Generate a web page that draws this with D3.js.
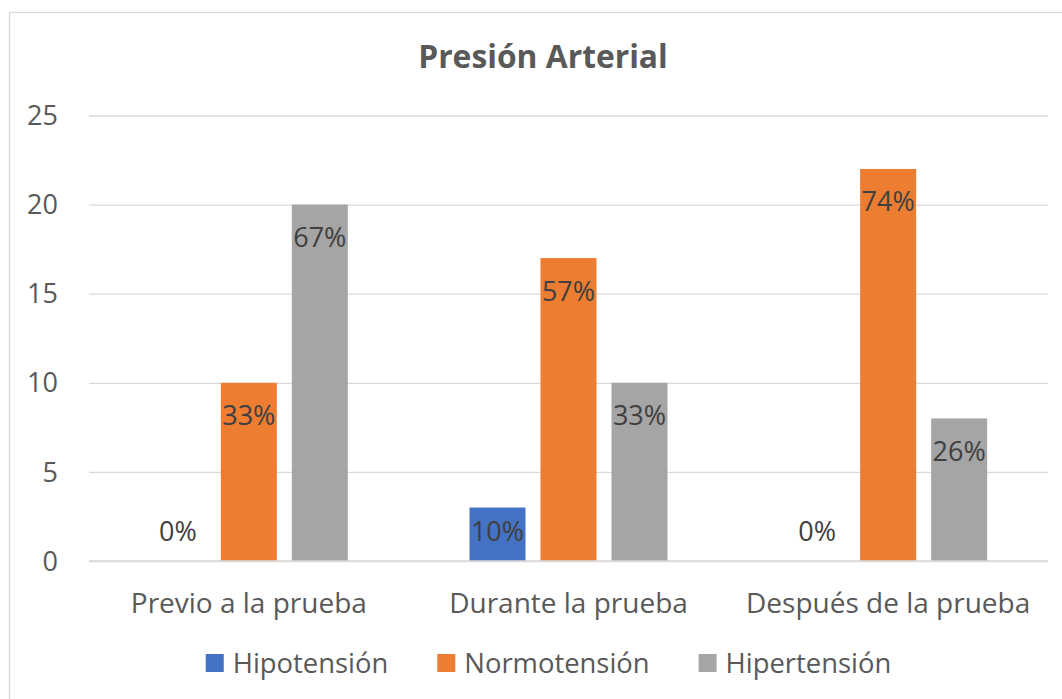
<!DOCTYPE html>
<html>
<head>
<meta charset="utf-8">
<script src="https://cdn.jsdelivr.net/npm/d3@7"></script>
<style>
  body { margin: 0; background: #fff; }
  svg { font-family: 'Open Sans', sans-serif; }
</style>
</head>
<body>
<svg id="chart" width="1062" height="699"></svg>
<script>
const categories = ['Previo a la prueba', 'Durante la prueba', 'Después de la prueba'];
const seriesNames = ['Hipotensión', 'Normotensión', 'Hipertensión'];
const hipotension = [0, 3, 0];
const normotension = [10, 17, 22];
const hipertension = [20, 10, 8];
const hipotensionPct = ['0%', '10%', '0%'];
const normotensionPct = ['33%', '57%', '74%'];
const hipertensionPct = ['67%', '33%', '26%'];
const yTicks = [0, 5, 10, 15, 20, 25];

const colors = ['#4472C4', '#ED7D31', '#A5A5A5'];
const valuesBySeries = [hipotension, normotension, hipertension];
const pctBySeries = [hipotensionPct, normotensionPct, hipertensionPct];

const margin = { top: 115.5, right: 14, bottom: 138, left: 89 };
const svg = d3.select('#chart');
const width = +svg.attr('width');
const height = +svg.attr('height');

// chart frame
svg.append('rect')
  .attr('x', 9.5).attr('y', 12.5)
  .attr('width', 1080).attr('height', 720)
  .attr('fill', '#fff')
  .attr('stroke', '#D9D9D9')
  .attr('stroke-width', 1.3);

const x0 = d3.scaleBand()
  .domain(categories)
  .range([margin.left, width - margin.right]);

const x1 = d3.scaleBand()
  .domain(seriesNames)
  .range([0, x0.bandwidth()])
  .paddingInner(0.211)
  .paddingOuter(0.857);

const y = d3.scaleLinear()
  .domain([0, 25])
  .range([height - margin.bottom, margin.top]);

// gridlines + y labels
const yAxis = d3.axisLeft(y)
  .tickValues(yTicks)
  .tickSize(-(width - margin.right - margin.left))
  .tickPadding(31);

const gY = svg.append('g')
  .attr('transform', `translate(${margin.left},0)`)
  .call(yAxis);
gY.select('.domain').remove();
gY.selectAll('.tick line').attr('stroke', '#D9D9D9').attr('stroke-width', 1.3);
gY.selectAll('.tick text')
  .attr('fill', '#595959')
  .style('font-size', '27px')
  .style('font-family', "'Open Sans', sans-serif")
  .attr('dy', '0.34em');

// bars
const rows = [];
categories.forEach((c, i) => {
  seriesNames.forEach((s, j) => {
    rows.push({ cat: c, series: s, value: valuesBySeries[j][i], pct: pctBySeries[j][i], color: colors[j] });
  });
});

const group = svg.append('g');
group.selectAll('rect.bar')
  .data(rows)
  .enter()
  .append('rect')
  .classed('bar', true)
  .attr('x', d => x0(d.cat) + x1(d.series))
  .attr('y', d => y(d.value))
  .attr('width', x1.bandwidth())
  .attr('height', d => y(0) - y(d.value))
  .attr('fill', d => d.color);

// data labels (inside end)
group.selectAll('text.lbl')
  .data(rows)
  .enter()
  .append('text')
  .classed('lbl', true)
  .attr('x', d => x0(d.cat) + x1(d.series) + x1.bandwidth() / 2)
  .attr('y', d => Math.min(y(d.value) + 33, y(0) - 30) + 9.5)
  .attr('text-anchor', 'middle')
  .attr('fill', '#404040')
  .style('font-size', '27px')
  .text(d => d.pct);

// x axis baseline + category labels
svg.append('line')
  .attr('x1', margin.left).attr('x2', width - margin.right)
  .attr('y1', y(0)).attr('y2', y(0))
  .attr('stroke', '#D9D9D9').attr('stroke-width', 1.3);

svg.selectAll('text.cat')
  .data(categories)
  .enter()
  .append('text')
  .classed('cat', true)
  .attr('x', d => x0(d) + x0.bandwidth() / 2)
  .attr('y', 613)
  .attr('text-anchor', 'middle')
  .attr('fill', '#595959')
  .style('font-size', '28px')
  .text(d => d);

// title
svg.append('text')
  .attr('x', 543)
  .attr('y', 68)
  .attr('text-anchor', 'middle')
  .attr('fill', '#595959')
  .style('font-size', '31.8px')
  .style('font-weight', 'bold')
  .text('Presión Arterial');

// legend
const legend = svg.append('g');
const items = legend.selectAll('g.item')
  .data(seriesNames)
  .enter()
  .append('g')
  .classed('item', true);
items.append('rect')
  .attr('width', 18).attr('height', 18)
  .attr('y', 654)
  .attr('fill', (d, i) => colors[i]);
items.append('text')
  .attr('x', 27)
  .attr('y', 673)
  .attr('fill', '#595959')
  .style('font-size', '27.4px')
  .text(d => d);

let offset = 0;
const offsets = [];
items.each(function () {
  offsets.push(offset);
  const w = d3.select(this).select('text').node().getComputedTextLength();
  offset += 27 + w + 49;
});
const total = offset - 49;
const startX = 548.5 - total / 2;
items.attr('transform', (d, i) => `translate(${startX + offsets[i]},0)`);
</script>
</body>
</html>
